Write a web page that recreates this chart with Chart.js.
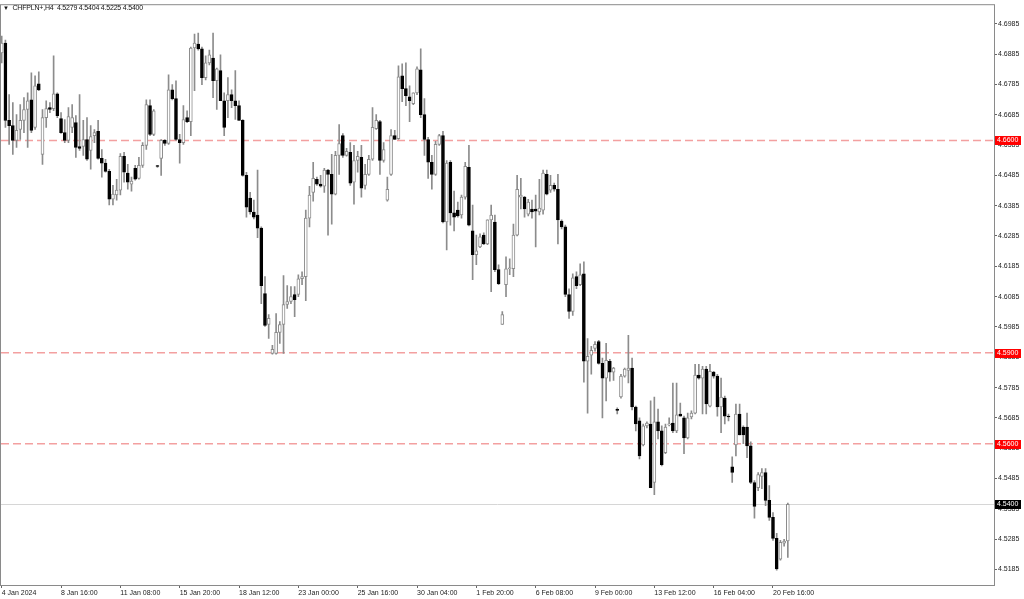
<!DOCTYPE html>
<html>
<head>
<meta charset="utf-8">
<script src="https://cdn.jsdelivr.net/npm/chart.js@4.4.1/dist/chart.umd.min.js"></script>
<style>
  html, body { margin: 0; padding: 0; background: #fff; }
  #wrap { position: relative; width: 1024px; height: 599px; }
  #title { position: absolute; left: 3px; top: 3px; font: 7px 'Liberation Sans', Arial, sans-serif; letter-spacing: -0.2px; color: #111; white-space: pre; line-height: 9px; }
  #title .tri { font-size: 6px; letter-spacing: 0; }
</style>
</head>
<body>
<div id="wrap">
  <canvas id="priceChart" width="1024" height="599"></canvas>
  <div id="title"><span class="tri">▼</span>  CHFPLN+,H4  4.5279 4.5404 4.5225 4.5400</div>
</div>
<script>
// CHFPLN+ H4 candles, one entry per bar (index 0 = 4 Jan 2024 00:00)
const opens = [
  4.6889, 4.6921, 4.6666, 4.6649, 4.6600, 4.6636, 4.6666, 4.6702, 4.6734, 4.6643,
  4.6787, 4.6554, 4.6675, 4.6708, 4.6705, 4.6754, 4.6672, 4.6626, 4.6600, 4.6643,
  4.6659, 4.6580, 4.6580, 4.6603, 4.6567, 4.6616, 4.6630, 4.6541, 4.6525, 4.6498,
  4.6406, 4.6420, 4.6436, 4.6548, 4.6492, 4.6456, 4.6508, 4.6475, 4.6518, 4.6584,
  4.6715, 4.6620, 4.6515, 4.6541, 4.6600, 4.6590, 4.6767, 4.6738, 4.6603, 4.6593,
  4.6675, 4.6662, 4.6905, 4.6918, 4.6902, 4.6807, 4.6856, 4.6872, 4.6797, 4.6830,
  4.6731, 4.6731, 4.6751, 4.6731, 4.6715, 4.6666, 4.6485, 4.6410, 4.6364, 4.6354,
  4.6311, 4.6095, 4.5993, 4.5898, 4.5898, 4.5967, 4.5993, 4.6059, 4.6069, 4.6092,
  4.6092, 4.6144, 4.6151, 4.6344, 4.6429, 4.6472, 4.6456, 4.6449, 4.6502, 4.6488,
  4.6423, 4.6551, 4.6616, 4.6551, 4.6561, 4.6462, 4.6534, 4.6544, 4.6452, 4.6488,
  4.6538, 4.6639, 4.6662, 4.6534, 4.6403, 4.6488, 4.6616, 4.6606, 4.6813, 4.6771,
  4.6744, 4.6721, 4.6757, 4.6833, 4.6685, 4.6603, 4.6528, 4.6488, 4.6587, 4.6616,
  4.6331, 4.6528, 4.6361, 4.6370, 4.6354, 4.6413, 4.6511, 4.6302, 4.6223, 4.6249,
  4.6288, 4.6259, 4.6338, 4.6331, 4.6174, 4.5993, 4.6124, 4.6177, 4.6177, 4.6288,
  4.6413, 4.6413, 4.6357, 4.6374, 4.6374, 4.6364, 4.6370, 4.6488, 4.6436, 4.6452,
  4.6439, 4.6334, 4.6315, 4.6092, 4.6036, 4.6151, 4.6124, 4.6160, 4.5872, 4.5892,
  4.5914, 4.5937, 4.5865, 4.5816, 4.5872, 4.5836, 4.5711, 4.5754, 4.5823, 4.5842,
  4.5849, 4.5721, 4.5675, 4.5596, 4.5659, 4.5665, 4.5472, 4.5672, 4.5642, 4.5570,
  4.5662, 4.5668, 4.5642, 4.5698, 4.5685, 4.5619, 4.5688, 4.5701, 4.5826, 4.5816,
  4.5846, 4.5724, 4.5836, 4.5823, 4.5721, 4.5750, 4.5691, 4.5524, 4.5596, 4.5698,
  4.5655, 4.5655, 4.5593, 4.5472, 4.5455, 4.5492, 4.5505, 4.5413, 4.5357, 4.5288,
  4.5219, 4.5272, 4.5279
];
const highs = [
  4.6944, 4.6931, 4.6751, 4.6725, 4.6685, 4.6718, 4.6741, 4.6757, 4.6823, 4.6813,
  4.6826, 4.6702, 4.6731, 4.6725, 4.6879, 4.6757, 4.6692, 4.6669, 4.6708, 4.6718,
  4.6682, 4.6751, 4.6666, 4.6675, 4.6649, 4.6636, 4.6666, 4.6570, 4.6538, 4.6505,
  4.6452, 4.6472, 4.6557, 4.6561, 4.6521, 4.6479, 4.6518, 4.6544, 4.6593, 4.6734,
  4.6734, 4.6702, 4.6518, 4.6603, 4.6603, 4.6816, 4.6784, 4.6797, 4.6620, 4.6715,
  4.6698, 4.6908, 4.6951, 4.6954, 4.6908, 4.6879, 4.6898, 4.6954, 4.6839, 4.6882,
  4.6757, 4.6807, 4.6767, 4.6830, 4.6731, 4.6669, 4.6495, 4.6429, 4.6403, 4.6502,
  4.6315, 4.6151, 4.6026, 4.5924, 4.6029, 4.6003, 4.6154, 4.6121, 4.6118, 4.6118,
  4.6157, 4.6167, 4.6370, 4.6449, 4.6528, 4.6479, 4.6485, 4.6508, 4.6505, 4.6554,
  4.6564, 4.6652, 4.6623, 4.6574, 4.6593, 4.6584, 4.6564, 4.6584, 4.6521, 4.6551,
  4.6708, 4.6685, 4.6666, 4.6593, 4.6479, 4.6636, 4.6633, 4.6846, 4.6853, 4.6856,
  4.6780, 4.6757, 4.6843, 4.6902, 4.6738, 4.6610, 4.6551, 4.6597, 4.6620, 4.6630,
  4.6534, 4.6534, 4.6433, 4.6397, 4.6420, 4.6528, 4.6584, 4.6387, 4.6288, 4.6292,
  4.6295, 4.6338, 4.6387, 4.6354, 4.6190, 4.6036, 4.6216, 4.6210, 4.6324, 4.6485,
  4.6475, 4.6416, 4.6406, 4.6403, 4.6420, 4.6472, 4.6502, 4.6502, 4.6485, 4.6459,
  4.6488, 4.6338, 4.6321, 4.6111, 4.6160, 4.6167, 4.6193, 4.6200, 4.5947, 4.5921,
  4.5937, 4.5941, 4.5882, 4.5931, 4.5878, 4.5852, 4.5718, 4.5829, 4.5849, 4.5957,
  4.5882, 4.5724, 4.5685, 4.5665, 4.5672, 4.5741, 4.5754, 4.5714, 4.5659, 4.5665,
  4.5685, 4.5800, 4.5800, 4.5734, 4.5691, 4.5701, 4.5708, 4.5862, 4.5862, 4.5855,
  4.5855, 4.5862, 4.5839, 4.5829, 4.5816, 4.5757, 4.5698, 4.5557, 4.5731, 4.5731,
  4.5659, 4.5701, 4.5606, 4.5478, 4.5505, 4.5518, 4.5518, 4.5462, 4.5373, 4.5304,
  4.5281, 4.5285, 4.5404
];
const lows = [
  4.6856, 4.6643, 4.6587, 4.6554, 4.6577, 4.6603, 4.6626, 4.6577, 4.6626, 4.6636,
  4.6764, 4.6521, 4.6643, 4.6692, 4.6698, 4.6675, 4.6623, 4.6593, 4.6593, 4.6626,
  4.6544, 4.6567, 4.6551, 4.6534, 4.6505, 4.6593, 4.6538, 4.6479, 4.6495, 4.6387,
  4.6387, 4.6403, 4.6420, 4.6462, 4.6439, 4.6433, 4.6469, 4.6472, 4.6511, 4.6570,
  4.6616, 4.6616, 4.6511, 4.6485, 4.6584, 4.6587, 4.6734, 4.6600, 4.6525, 4.6587,
  4.6659, 4.6616, 4.6764, 4.6898, 4.6784, 4.6800, 4.6849, 4.6741, 4.6702, 4.6731,
  4.6616, 4.6675, 4.6708, 4.6669, 4.6666, 4.6482, 4.6347, 4.6357, 4.6341, 4.6279,
  4.6062, 4.5987, 4.5947, 4.5895, 4.5895, 4.5931, 4.5898, 4.6046, 4.6062, 4.6019,
  4.6085, 4.6124, 4.6072, 4.6315, 4.6400, 4.6452, 4.6446, 4.6429, 4.6288, 4.6324,
  4.6420, 4.6488, 4.6544, 4.6548, 4.6452, 4.6390, 4.6495, 4.6413, 4.6439, 4.6485,
  4.6534, 4.6636, 4.6488, 4.6528, 4.6400, 4.6485, 4.6603, 4.6603, 4.6728, 4.6715,
  4.6662, 4.6718, 4.6751, 4.6675, 4.6551, 4.6475, 4.6439, 4.6485, 4.6584, 4.6328,
  4.6239, 4.6321, 4.6302, 4.6347, 4.6344, 4.6406, 4.6318, 4.6141, 4.6190, 4.6246,
  4.6256, 4.6256, 4.6101, 4.6167, 4.6124, 4.5993, 4.6085, 4.6157, 4.6151, 4.6285,
  4.6374, 4.6347, 4.6351, 4.6344, 4.6249, 4.6354, 4.6357, 4.6420, 4.6429, 4.6433,
  4.6259, 4.6308, 4.6085, 4.6013, 4.6023, 4.6111, 4.6121, 4.5803, 4.5701, 4.5829,
  4.5905, 4.5862, 4.5685, 4.5741, 4.5806, 4.5809, 4.5698, 4.5750, 4.5819, 4.5800,
  4.5711, 4.5642, 4.5550, 4.5593, 4.5652, 4.5455, 4.5432, 4.5616, 4.5527, 4.5567,
  4.5659, 4.5636, 4.5636, 4.5691, 4.5567, 4.5616, 4.5682, 4.5698, 4.5813, 4.5698,
  4.5698, 4.5721, 4.5816, 4.5691, 4.5636, 4.5665, 4.5675, 4.5472, 4.5560, 4.5629,
  4.5600, 4.5554, 4.5468, 4.5354, 4.5445, 4.5452, 4.5396, 4.5347, 4.5281, 4.5183,
  4.5216, 4.5262, 4.5225
];
const closes = [
  4.6921, 4.6666, 4.6649, 4.6600, 4.6633, 4.6666, 4.6702, 4.6731, 4.6633, 4.6780,
  4.6767, 4.6675, 4.6705, 4.6702, 4.6754, 4.6682, 4.6626, 4.6600, 4.6679, 4.6675,
  4.6577, 4.6574, 4.6603, 4.6538, 4.6613, 4.6626, 4.6541, 4.6525, 4.6498, 4.6406,
  4.6423, 4.6436, 4.6548, 4.6495, 4.6462, 4.6466, 4.6472, 4.6518, 4.6584, 4.6718,
  4.6620, 4.6698, 4.6514, 4.6600, 4.6590, 4.6767, 4.6738, 4.6603, 4.6593, 4.6669,
  4.6662, 4.6905, 4.6921, 4.6902, 4.6807, 4.6856, 4.6882, 4.6797, 4.6836, 4.6731,
  4.6643, 4.6751, 4.6731, 4.6715, 4.6666, 4.6485, 4.6380, 4.6364, 4.6347, 4.6311,
  4.6121, 4.5990, 4.6013, 4.5911, 4.5967, 4.5993, 4.6059, 4.6069, 4.6085, 4.6075,
  4.6144, 4.6151, 4.6344, 4.6420, 4.6475, 4.6456, 4.6449, 4.6502, 4.6488, 4.6423,
  4.6551, 4.6590, 4.6551, 4.6564, 4.6459, 4.6534, 4.6548, 4.6443, 4.6488, 4.6538,
  4.6643, 4.6666, 4.6534, 4.6570, 4.6439, 4.6616, 4.6603, 4.6810, 4.6771, 4.6748,
  4.6731, 4.6757, 4.6836, 4.6685, 4.6603, 4.6528, 4.6488, 4.6587, 4.6616, 4.6331,
  4.6525, 4.6361, 4.6347, 4.6351, 4.6413, 4.6515, 4.6321, 4.6223, 4.6236, 4.6282,
  4.6259, 4.6338, 4.6354, 4.6174, 4.6128, 4.6026, 4.6177, 4.6180, 4.6288, 4.6439,
  4.6420, 4.6374, 4.6397, 4.6364, 4.6367, 4.6377, 4.6492, 4.6423, 4.6452, 4.6439,
  4.6338, 4.6315, 4.6092, 4.6036, 4.6147, 4.6121, 4.6157, 4.5872, 4.5888, 4.5908,
  4.5928, 4.5865, 4.5816, 4.5875, 4.5836, 4.5849, 4.5710, 4.5823, 4.5846, 4.5849,
  4.5721, 4.5665, 4.5560, 4.5659, 4.5668, 4.5455, 4.5672, 4.5642, 4.5531, 4.5655,
  4.5665, 4.5642, 4.5695, 4.5691, 4.5619, 4.5685, 4.5701, 4.5826, 4.5816, 4.5846,
  4.5731, 4.5839, 4.5823, 4.5721, 4.5754, 4.5691, 4.5688, 4.5505, 4.5698, 4.5629,
  4.5629, 4.5593, 4.5472, 4.5393, 4.5498, 4.5505, 4.5413, 4.5357, 4.5288, 4.5187,
  4.5275, 4.5279, 4.5400
];

// time axis labels (every 16th bar)
const xTickIdx = [0, 16, 32, 48, 64, 80, 96, 112, 128, 144, 160, 176, 192, 208];
const xTickLabels = ['4 Jan 2024', '8 Jan 16:00', '11 Jan 08:00', '15 Jan 20:00', '18 Jan 12:00',
  '23 Jan 00:00', '25 Jan 16:00', '30 Jan 04:00', '1 Feb 20:00', '6 Feb 08:00',
  '9 Feb 00:00', '13 Feb 12:00', '16 Feb 04:00', '20 Feb 16:00'];

// price axis labels
const yTicks = [4.6985, 4.6885, 4.6785, 4.6685, 4.6585, 4.6485, 4.6385, 4.6285, 4.6185, 4.6085,
  4.5985, 4.5885, 4.5785, 4.5685, 4.5585, 4.5485, 4.5385, 4.5285, 4.5185];

// horizontal levels drawn on the chart
const levelPrices = [4.6600, 4.5900, 4.5600];
const lastPrice = 4.5400;

const idx = opens.map((_, i) => i);
const isUp = idx.map(i => closes[i] >= opens[i]);
const wickData = idx.map(i => ({ x: i, y: [lows[i], highs[i]] }));
const bodyData = idx.map(i => ({ x: i, y: [Math.min(opens[i], closes[i]), Math.max(opens[i], closes[i])] }));

// level lines, frame and the coloured price tags on the right axis
const mtOverlay = {
    id: 'mtOverlay',
    beforeDatasetsDraw(chart) {
        const { ctx, chartArea: a, scales: { y } } = chart;
        ctx.save();
        ctx.lineWidth = 1;
        ctx.strokeStyle = '#d6d6d6';
        let py = Math.round(y.getPixelForValue(lastPrice)) + 0.5;
        ctx.beginPath();
        ctx.moveTo(a.left, py);
        ctx.lineTo(a.right, py);
        ctx.stroke();

        ctx.strokeStyle = '#f3a0a0';
        ctx.lineWidth = 1.4;
        ctx.setLineDash([8, 4]);
        levelPrices.forEach(p => {
            const ly = y.getPixelForValue(p);
            ctx.beginPath();
            ctx.moveTo(a.left, ly);
            ctx.lineTo(a.right, ly);
            ctx.stroke();
        });
        ctx.restore();
    },
    afterDraw(chart) {
        const { ctx, chartArea: a, scales: { y } } = chart;
        ctx.save();
        ctx.strokeStyle = '#8a8a8a';
        ctx.lineWidth = 1;
        ctx.strokeRect(a.left - 0.5, a.top - 0.5, a.right - a.left + 1, a.bottom - a.top + 1);

        ctx.font = '7px "Liberation Sans", Arial, sans-serif';
        ctx.textBaseline = 'middle';
        ctx.textAlign = 'left';
        const tag = (p, bg) => {
            const ty = Math.round(y.getPixelForValue(p));
            ctx.fillStyle = bg;
            ctx.fillRect(a.right + 1, ty - 4, 26, 9);
            ctx.fillStyle = '#ffffff';
            ctx.fillText(p.toFixed(4), a.right + 3, ty + 0.5);
        };
        levelPrices.forEach(p => tag(p, '#ff0000'));
        tag(lastPrice, '#000000');
        ctx.restore();
    }
};

Chart.defaults.font.family = '"Liberation Sans", Arial, sans-serif';

new Chart(document.getElementById('priceChart').getContext('2d'), {
    type: 'bar',
    data: {
        datasets: [
            {
                label: 'body',
                data: bodyData,
                backgroundColor: isUp.map(u => u ? '#ffffff' : '#000000'),
                borderColor: isUp.map(u => u ? '#8c8c8c' : '#000000'),
                borderWidth: 1,
                borderSkipped: false,
                barThickness: 3,
                minBarLength: 1,
                grouped: false,
                order: 0
            },
            {
                label: 'wick',
                data: wickData,
                backgroundColor: '#8c8c8c',
                barThickness: 1,
                grouped: false,
                order: 1
            }
        ]
    },
    options: {
        responsive: false,
        animation: false,
        layout: { padding: { top: 2, left: 1, right: 0, bottom: 0 } },
        plugins: {
            legend: { display: false },
            tooltip: { enabled: false }
        },
        scales: {
            x: {
                type: 'linear',
                min: -0.19,
                max: 267.6,
                offset: false,
                afterBuildTicks: s => { s.ticks = xTickIdx.map(v => ({ value: v })); },
                afterFit: s => { s.height = 14; },
                grid: { drawOnChartArea: false, drawTicks: true, tickLength: 3, color: '#666', offset: false },
                border: { display: false },
                ticks: {
                    autoSkip: false,
                    maxRotation: 0,
                    align: 'start',
                    padding: 1,
                    color: '#222',
                    font: { size: 7 },
                    callback: (v, i) => xTickLabels[i]
                }
            },
            y: {
                type: 'linear',
                position: 'right',
                min: 4.5134,
                max: 4.7046,
                afterBuildTicks: s => { s.ticks = yTicks.map(v => ({ value: v })); },
                afterFit: s => { s.width = 30; },
                grid: { drawOnChartArea: false, drawTicks: true, tickLength: 3, color: '#666' },
                border: { display: false },
                ticks: {
                    padding: 1,
                    color: '#222',
                    font: { size: 7 },
                    callback: v => v.toFixed(4)
                }
            }
        }
    },
    plugins: [mtOverlay]
});
</script>
</body>
</html>
